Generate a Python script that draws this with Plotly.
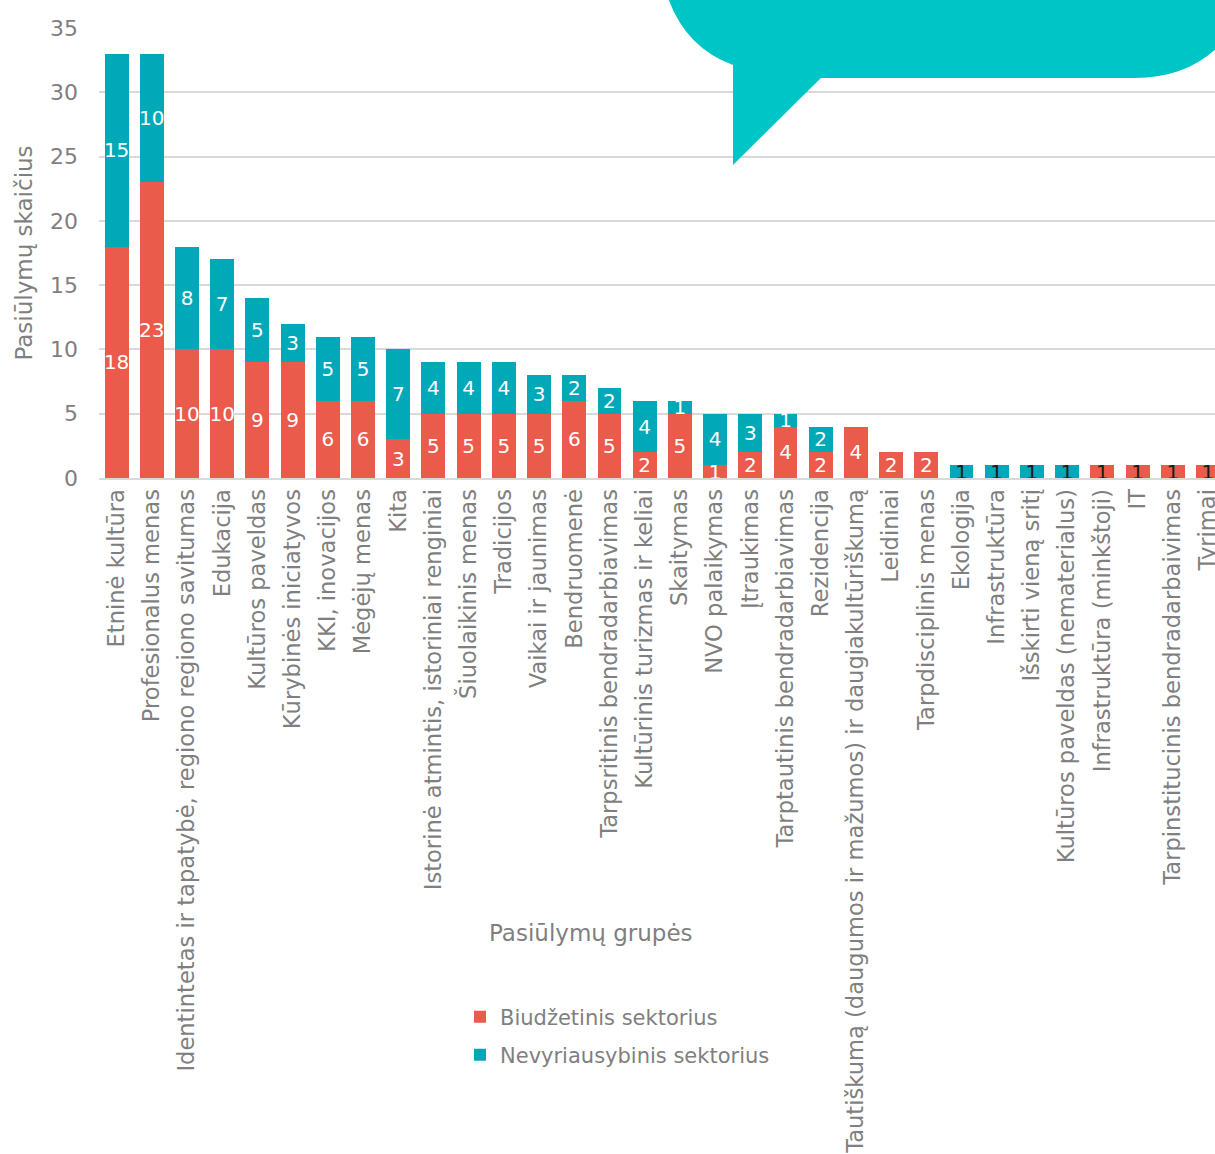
import plotly.graph_objects as go

categories = [
    "Etninė kultūra", "Profesionalus menas",
    "Identintetas ir tapatybė, regiono regiono savitumas", "Edukacija",
    "Kultūros paveldas", "Kūrybinės iniciatyvos", "KKI, inovacijos",
    "Mėgėjų menas", "Kita", "Istorinė atmintis, istoriniai renginiai",
    "Šiuolaikinis menas", "Tradicijos", "Vaikai ir jaunimas", "Bendruomenė",
    "Tarpsritinis bendradarbiavimas", "Kultūrinis turizmas ir keliai",
    "Skaitymas", "NVO palaikymas", "Įtraukimas",
    "Tarptautinis bendradarbiavimas", "Rezidencija",
    "Tautiškumą (daugumos ir mažumos) ir daugiakultūriškumą", "Leidiniai",
    "Tarpdisciplinis menas", "Ekologija", "Infrastruktūra",
    "Išskirti vieną sritį", "Kultūros paveldas (nematerialus)",
    "Infrastruktūra (minkštoji)", "IT", "Tarpinstitucinis bendradarbaivimas",
    "Tyrimai",
]
biudzetinis = [18, 23, 10, 10, 9, 9, 6, 6, 3, 5, 5, 5, 5, 6, 5, 2, 5, 1, 2, 4,
               2, 4, 2, 2, 0, 0, 0, 0, 1, 1, 1, 1]
nevyriausybinis = [15, 10, 8, 7, 5, 3, 5, 5, 7, 4, 4, 4, 3, 2, 2, 4, 1, 4, 3, 1,
                   2, 0, 0, 0, 1, 1, 1, 1, 0, 0, 0, 0]
series_names = ["Biudžetinis sektorius", "Nevyriausybinis sektorius"]
y_ticks = [0, 5, 10, 15, 20, 25, 30, 35]

RED = "#EA5B4C"
TEAL = "#00A8B8"
GREY = "#7F7F7F"
FONT = "DejaVu Sans"

W, H = 1215, 1154
L, R, T, B = 99, 0, 28, 676
pw, ph = W - L - R, H - T - B


def label_colors(vals):
    # tiny single-unit bars at the tail carry dark labels
    return ["#1a1a1a" if (i >= 24) else "white" for i, v in enumerate(vals)]


def texts(vals):
    return [str(v) if v else "" for v in vals]


fig = go.Figure()
for name, vals, col, lg in [(series_names[0], biudzetinis, RED, "legend"),
                            (series_names[1], nevyriausybinis, TEAL, "legend2")]:
    fig.add_trace(go.Bar(
        x=categories, y=vals, name=name, legend=lg, showlegend=True,
        marker=dict(color=col, line=dict(width=0)),
        text=texts(vals), textposition="inside", insidetextanchor="middle",
        constraintext="none", textangle=0,
        textfont=dict(color=label_colors(vals), size=20, family=FONT),
        hoverinfo="x+y+name",
    ))


def px(x, y):
    return f"{(x - L) / pw:.5f},{(H - B - y) / ph:.5f}"


# decorative speech bubble
path = ("M " + px(668, -2) + " Q " + px(686, 48) + " " + px(733, 65) +
        " L " + px(733, 165) + " L " + px(821, 78) + " L " + px(1135, 78) +
        " Q " + px(1185, 78) + " " + px(1217, 48) + " L " + px(1217, -2) + " Z")
fig.add_shape(type="path", path=path, xref="paper", yref="paper",
              fillcolor="#00C5C6", line=dict(width=0), layer="above")

fig.add_annotation(text="Pasiūlymų grupės", xref="paper", yref="paper",
                   x=(591 - L) / pw, y=(H - B - 933) / ph, showarrow=False,
                   font=dict(size=23, color=GREY, family=FONT),
                   xanchor="center", yanchor="middle")

legend_style = dict(orientation="v", xanchor="left", yanchor="middle",
                    x=(460 - L) / pw, visible=True,
                    font=dict(size=21, color=GREY, family=FONT),
                    itemwidth=30, bgcolor="rgba(0,0,0,0)")

fig.update_layout(
    width=W, height=H, barmode="stack", bargap=0.32, showlegend=True,
    margin=dict(l=L, r=R, t=T, b=B, autoexpand=False),
    paper_bgcolor="white", plot_bgcolor="white",
    font=dict(family=FONT, color=GREY),
    uniformtext=dict(minsize=20, mode="show"),
    legend=dict(**legend_style, y=(H - B - 1017) / ph),
    legend2=dict(**legend_style, y=(H - B - 1055) / ph),
    xaxis=dict(type="category", range=[-0.5, 31.2], tickangle=-90,
               tickfont=dict(size=22.6, color=GREY, family=FONT),
               showgrid=False, showline=True, linecolor="#D9D9D9", linewidth=2,
               ticks="", ticklabelstandoff=0, automargin=False),
    yaxis=dict(range=[0, 35], tickvals=y_ticks, showgrid=True,
               gridcolor="#D9D9D9", gridwidth=2, zeroline=False,
               tickfont=dict(size=22, color=GREY, family=FONT),
               ticklabelstandoff=20, automargin=False,
               title=dict(text="Pasiūlymų skaičius", standoff=10,
                          font=dict(size=23, color=GREY, family=FONT))),
)

fig.write_html("out.html", config={"displayModeBar": False},
               post_script="document.body.style.margin='0';"
                           "document.body.style.overflow='hidden';")
